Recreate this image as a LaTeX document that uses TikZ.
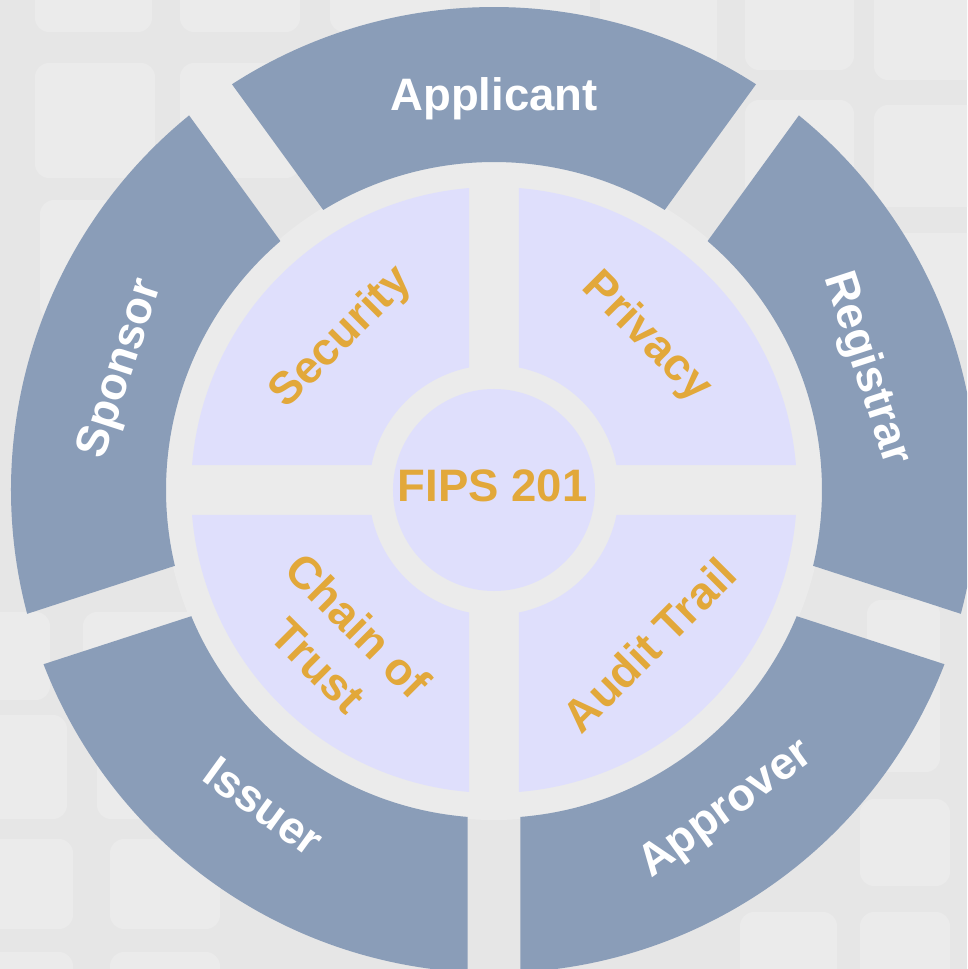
\documentclass[tikz,border=0pt]{standalone}
\usepackage{fontspec}
\setmainfont{Liberation Sans}
\definecolor{ringc}{RGB}{138,157,184}
\definecolor{quadc}{RGB}{223,223,252}
\definecolor{orangec}{RGB}{226,168,58}
\definecolor{bgc}{RGB}{235,235,235}
\definecolor{bandc}{RGB}{230,230,230}
\tikzset{
  ringlbl/.style={text=white, font=\bfseries\fontsize{45.5}{52}\selectfont, text depth=0pt, inner sep=0pt},
  quadlbl/.style={text=orangec, font=\bfseries\fontsize{45.5}{52}\selectfont, text depth=0pt, inner sep=0pt},
  quadlbltwo/.style={text=orangec, font=\bfseries\fontsize{45.5}{56.6}\selectfont, align=center, inner sep=0pt},
  tile/.style={fill=bgc, rounded corners=14pt},
  ringseg/.style={fill=ringc},
  quadseg/.style={fill=quadc}
}
\begin{document}
\begin{tikzpicture}[x=1pt,y=1pt]
\useasboundingbox (-494,-479) rectangle (473,490);
\begin{scope}
\clip (-494,-479) rectangle (473,490);
\fill[bandc] (-494,-479) rectangle (473,490);
\foreach \xa/\ya/\xb/\yb in {
  35/-20/152/32, 180/-20/300/32, 330/-20/450/32, 470/-20/590/32, 600/-20/717/70, 745/-20/854/70, 874/-20/1000/80,
  35/63/155/178, 180/63/300/178, 745/100/854/210, 874/105/1000/207,
  40/200/155/320, 874/233/1000/340,
  -20/612/50/700, 83/612/200/700, -20/715/67/819, 97/715/220/819,
  -20/839/73/929, 110/839/220/929, -20/952/73/1000, 110/952/220/1000,
  867/600/940/772, 860/799/950/886, 975/799/1040/886,
  740/912/837/1000, 860/912/950/1000, 975/912/1040/1000}
  \fill[tile] ({\xa-494},{490-\ya}) rectangle ({\xb-494},{490-\yb});
\fill[bgc] (0,0) circle[radius=330];
% outer ring segments
\foreach \a/\b in {54/126, 126/198, 198/270, 270/342, 342/414}
  \fill[ringseg] ({\a+asin(26.5/483)}:483) arc[start angle={\a+asin(26.5/483)}, end angle={\b-asin(26.5/483)}, radius=483]
     -- ({\b-asin(26.5/328)}:328) arc[start angle={\b-asin(26.5/328)}, end angle={\a+asin(26.5/328)}, radius=328] -- cycle;
% inner quadrants
\foreach \a/\b in {0/90, 90/180, 180/270, 270/360}
  \fill[quadseg] ({\a+asin(25/303)}:303) arc[start angle={\a+asin(25/303)}, end angle={\b-asin(25/303)}, radius=303]
     -- ({\b-asin(25/125)}:125) arc[start angle={\b-asin(25/125)}, end angle={\a+asin(25/125)}, radius=125] -- cycle;
\fill[quadseg] (0,0) circle[radius=101];
\end{scope}
% ring labels
\node[ringlbl] (applicant) at (90:396) {Applicant};
\node[ringlbl, rotate=-72] (registrar) at (18:396) {Registrar};
\node[ringlbl, rotate=36] (approver) at (-54:391) {Approver};
\node[ringlbl, rotate=-36] (issuer) at (-126:391) {Issuer};
\node[ringlbl, rotate=72] (sponsor) at (162:396) {Sponsor};
% quadrant labels
\node[quadlbl, rotate=45] (security) at (135:220) {Security};
\node[quadlbl, rotate=-45] (privacy) at (45:220) {Privacy};
\node[quadlbl, rotate=45] (audit) at (-45:219) {Audit Trail};
\node[quadlbltwo, rotate=-45] (chain) at (-135:220) {Chain of\\Trust};
\node[quadlbl] (fips) at (-1.5,4.5) {FIPS 201};
\end{tikzpicture}
\end{document}
